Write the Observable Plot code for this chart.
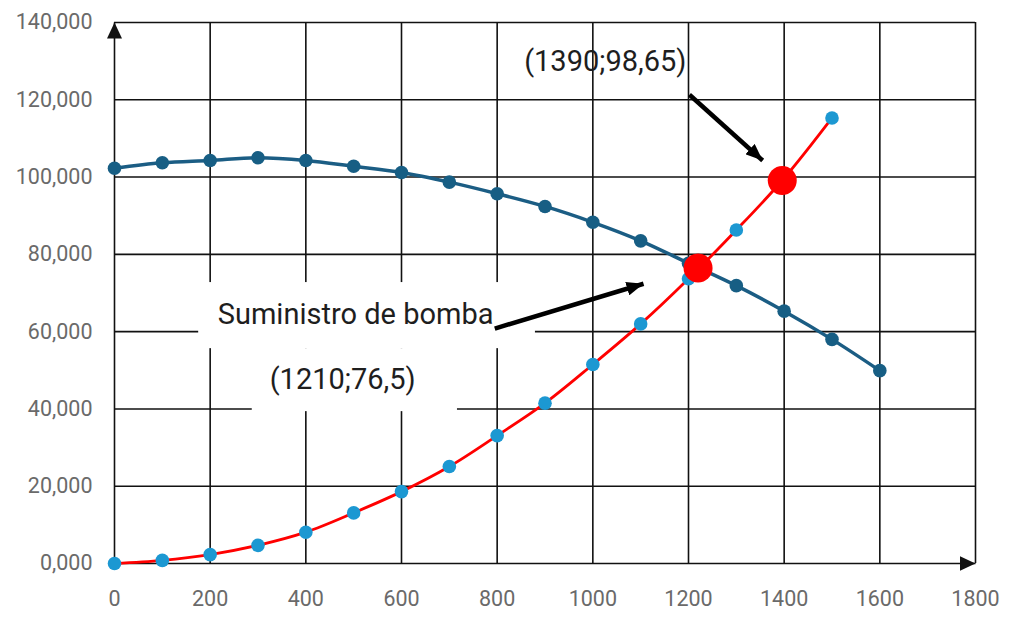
<!DOCTYPE html>
<html>
<head>
<meta charset="utf-8">
<script src="https://cdn.jsdelivr.net/npm/d3@7"></script>
<script src="https://cdn.jsdelivr.net/npm/@observablehq/plot@0.6"></script>
<style>
  html, body { margin: 0; padding: 0; background: #fff; }
  #chart { width: 1020px; height: 631px; }
</style>
</head>
<body>
<div id="chart"></div>
<script>
// ---- data ----
const caudal = [0, 100, 200, 300, 400, 500, 600, 700, 800, 900, 1000, 1100, 1200, 1300, 1400, 1500, 1600];
const bomba = [102.3, 103.7, 104.3, 105.0, 104.3, 102.8, 101.2, 98.7, 95.7, 92.4, 88.3, 83.5, 77.7, 71.9, 65.3, 58.0, 49.9];
const sistemaX = [0, 100, 200, 300, 400, 500, 600, 700, 800, 900, 1000, 1100, 1200, 1300, 1400, 1500];
const sistema = [0, 0.8, 2.3, 4.7, 8.1, 13.1, 18.6, 25.1, 33.1, 41.5, 51.5, 62.0, 73.7, 86.3, 99.7, 115.3];
const cruceX = [1220, 1396];
const cruceY = [76.5, 99.1];
const xTicks = [0, 200, 400, 600, 800, 1000, 1200, 1400, 1600, 1800];
const yTicks = [0, 20, 40, 60, 80, 100, 120, 140];

// annotation texts and anchors (data units)
const notas = [
  {text: "Suministro de bomba", x: 504, y: 64.4},
  {text: "(1210;76,5)", x: 477, y: 47.6},
  {text: "(1390;98,65)", x: 1026, y: 129.9}
];
const cajas = [
  {x1: 176, x2: 880, y1: 55.6, y2: 72.7},
  {x1: 288, x2: 717, y1: 39.3, y2: 55.6}
];
const flechas = [
  {x1: 795, y1: 60.8, x2: 1106, y2: 72.4},
  {x1: 1202, y1: 121.3, x2: 1355, y2: 104.3}
];
const ejes = [
  {x1: 0, y1: 0, x2: 0, y2: 140},
  {x1: 0, y1: 0, x2: 1800, y2: 0}
];

const bombaData = caudal.map((x, i) => ({x, y: bomba[i]}));
const sistemaData = sistemaX.map((x, i) => ({x, y: sistema[i]}));
const cruceData = cruceX.map((x, i) => ({x, y: cruceY[i]}));

function headMarker(len, wid) {
  return (color, context) => {
    const doc = (context && context.document) || document;
    const ns = "http://www.w3.org/2000/svg";
    const m = doc.createElementNS(ns, "marker");
    m.setAttribute("viewBox", `0 ${-wid / 2} ${len} ${wid}`);
    m.setAttribute("refX", len);
    m.setAttribute("refY", 0);
    m.setAttribute("markerWidth", len);
    m.setAttribute("markerHeight", wid);
    m.setAttribute("markerUnits", "userSpaceOnUse");
    m.setAttribute("orient", "auto");
    const p = doc.createElementNS(ns, "path");
    p.setAttribute("d", `M0,${-wid / 2}L${len},0L0,${wid / 2}Z`);
    p.setAttribute("fill", color);
    p.setAttribute("stroke", "none");
    m.appendChild(p);
    return m;
  };
}

const fmt = d => d.toFixed(3).replace(".", ",");

const chart = Plot.plot({
  width: 1020,
  height: 631,
  marginLeft: 114,
  marginRight: 45,
  marginTop: 22,
  marginBottom: 68,
  style: {fontFamily: "Roboto, sans-serif", fontSize: "21.5px", color: "#6a6a6a", background: "#fff", overflow: "visible"},
  x: {domain: [0, 1800], ticks: xTicks, tickSize: 0, tickPadding: 27, label: null, tickFormat: d => String(d)},
  y: {domain: [0, 140], ticks: yTicks, tickSize: 0, tickPadding: 22, label: null, tickFormat: fmt},
  marks: [
    Plot.ruleX(xTicks.slice(1), {y1: 0, y2: 140, stroke: "#111", strokeWidth: 1.6}),
    Plot.ruleY(yTicks.slice(1), {x1: 0, x2: 1800, stroke: "#111", strokeWidth: 1.6}),
    Plot.rect(cajas, {x1: "x1", x2: "x2", y1: "y1", y2: "y2", fill: "white"}),
    Plot.link(ejes, {x1: "x1", y1: "y1", x2: "x2", y2: "y2", stroke: "#111", strokeWidth: 1.6, markerEnd: headMarker(16, 15)}),
    Plot.text(notas, {x: "x", y: "y", text: "text", fill: "#1e1e1e", fontSize: 29, fontFamily: "Roboto, sans-serif"}),
    Plot.line(sistemaData, {x: "x", y: "y", stroke: "#ff0000", strokeWidth: 2.8, curve: "catmull-rom"}),
    Plot.line(bombaData, {x: "x", y: "y", stroke: "#1b5d84", strokeWidth: 3.5, curve: "catmull-rom"}),
    Plot.dot(bombaData, {x: "x", y: "y", r: 6.8, fill: "#175e84"}),
    Plot.dot(sistemaData, {x: "x", y: "y", r: 6.8, fill: "#1c98d2"}),
    Plot.dot(cruceData, {x: "x", y: "y", r: 14.5, fill: "#ff0000"}),
    Plot.link(flechas, {x1: "x1", y1: "y1", x2: "x2", y2: "y2", stroke: "#000", strokeWidth: 4.5, markerEnd: headMarker(17, 14)})
  ]
});
document.getElementById("chart").appendChild(chart);
</script>
</body>
</html>
